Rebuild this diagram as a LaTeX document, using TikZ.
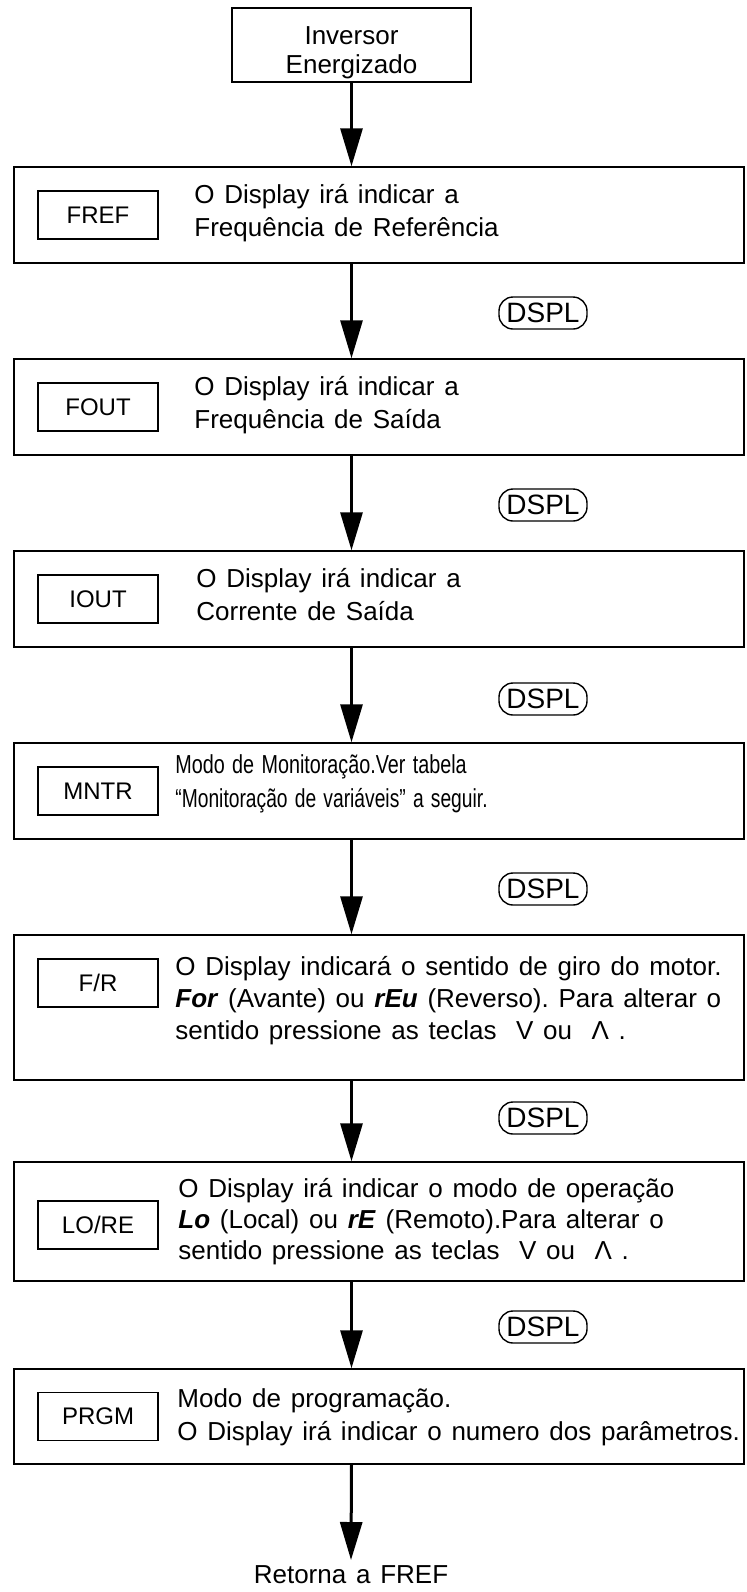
\documentclass[tikz,border=0pt]{standalone}
\usepackage{fontspec}
\usepackage{graphicx}
\setmainfont{Liberation Sans}[WordSpace=1.35]
\usetikzlibrary{arrows.meta}
\begin{document}
\frenchspacing
\begin{tikzpicture}[x=0.5pt,y=-0.5pt,
  mainbox/.style={draw, line width=0.7pt, inner sep=0, minimum width=365pt},
  labelbox/.style={draw, line width=0.6pt, inner sep=0, minimum width=60pt, minimum height=24pt, font=\fontsize{12}{14}\selectfont},
  startbox/.style={draw, line width=1.2pt, inner sep=0, minimum width=119.5pt, minimum height=37pt},
  flow/.style={line width=1.5pt, -{Triangle[length=19pt,width=11pt]}},
  desc/.style={anchor=base west, inner sep=0, font=\fontsize{13}{16}\selectfont},
  ctext/.style={anchor=base, inner sep=0, font=\fontsize{13}{16}\selectfont},
  keybox/.style={draw, line width=0.7pt, rounded corners=7pt, inner sep=0, minimum width=44pt, minimum height=16pt, font=\fontsize{14}{16}\selectfont}
]
\useasboundingbox (0,0) rectangle (746,1592);

% start box
\node[startbox] (top) at (351.5,45) {};
\node[ctext] (top1) at (351.5,44) {Inversor};
\node[ctext] (top2) at (351.5,73) {Energizado};

% box 1
\node[mainbox, minimum height=48pt] (b1) at (379,215) {};
\node[labelbox] (l1) at (98,215) {FREF};
\node[desc] (d1a) at (194,203) {O Display irá indicar a};
\node[desc] (d1b) at (194,236) {Frequência de Referência};

% box 2
\node[mainbox, minimum height=48pt] (b2) at (379,407) {};
\node[labelbox] (l2) at (98,407) {FOUT};
\node[desc] (d2a) at (194,395) {O Display irá indicar a};
\node[desc] (d2b) at (194,428) {Frequência de Saída};

% box 3
\node[mainbox, minimum height=48pt] (b3) at (379,599) {};
\node[labelbox] (l3) at (98,599) {IOUT};
\node[desc] (d3a) at (196,587) {O Display irá indicar a};
\node[desc] (d3b) at (196,620) {Corrente de Saída};

% box 4
\node[mainbox, minimum height=48pt] (b4) at (379,791) {};
\node[labelbox] (l4) at (98,791) {MNTR};
\node[desc] (d4a) at (175,773) {\scalebox{0.76}[1]{Modo de Monitoração.Ver tabela}};
\node[desc] (d4b) at (175,807) {\scalebox{0.74}[1]{“Monitoração de variáveis” a seguir.}};

% box 5
\node[mainbox, minimum height=72.5pt] (b5) at (379,1007.5) {};
\node[labelbox] (l5) at (98,983) {F/R};
\node[desc] (d5a) at (175,975) {O Display indicará o sentido de giro do motor.};
\node[desc] (d5b) at (175,1007) {\textbf{\textit{For}} (Avante) ou \textbf{\textit{rEu}} (Reverso). Para alterar o};
\node[desc] (d5c) at (175,1039) {sentido pressione as teclas \ V ou \ Λ .};

% box 6
\node[mainbox, minimum height=59.5pt] (b6) at (379,1221.5) {};
\node[labelbox] (l6) at (98,1225) {LO/RE};
\node[desc] (d6a) at (178,1197) {O Display irá indicar o modo de operação};
\node[desc] (d6b) at (178,1228) {\textbf{\textit{Lo}} (Local) ou \textbf{\textit{rE}} (Remoto).Para alterar o};
\node[desc] (d6c) at (178,1259) {sentido pressione as teclas \ V ou \ Λ .};

% box 7
\node[mainbox, minimum height=47.5pt] (b7) at (379,1416.5) {};
\node[labelbox] (l7) at (98,1416.5) {PRGM};
\node[desc] (d7a) at (177,1407) {Modo de programação.};
\node[desc] (d7b) at (177,1440) {O Display irá indicar o numero dos parâmetros.};

% keys
\node[keybox] (k1) at (543,313) {DSPL};
\node[keybox] (k2) at (543,505) {DSPL};
\node[keybox] (k3) at (543,699) {DSPL};
\node[keybox] (k4) at (543,889) {DSPL};
\node[keybox] (k5) at (543,1118) {DSPL};
\node[keybox] (k6) at (543,1327) {DSPL};

% end
\node[ctext] (ret) at (351,1583) {Retorna a FREF};
\coordinate (endp) at (351,1560);

% arrows
\draw[flow] (top.south) -- (top.south |- b1.north);
\draw[flow] (top.south |- b1.south) -- (top.south |- b2.north);
\draw[flow] (top.south |- b2.south) -- (top.south |- b3.north);
\draw[flow] (top.south |- b3.south) -- (top.south |- b4.north);
\draw[flow] (top.south |- b4.south) -- (top.south |- b5.north);
\draw[flow] (top.south |- b5.south) -- (top.south |- b6.north);
\draw[flow] (top.south |- b6.south) -- (top.south |- b7.north);
\draw[flow] (top.south |- b7.south) -- (endp);
\end{tikzpicture}
\end{document}
